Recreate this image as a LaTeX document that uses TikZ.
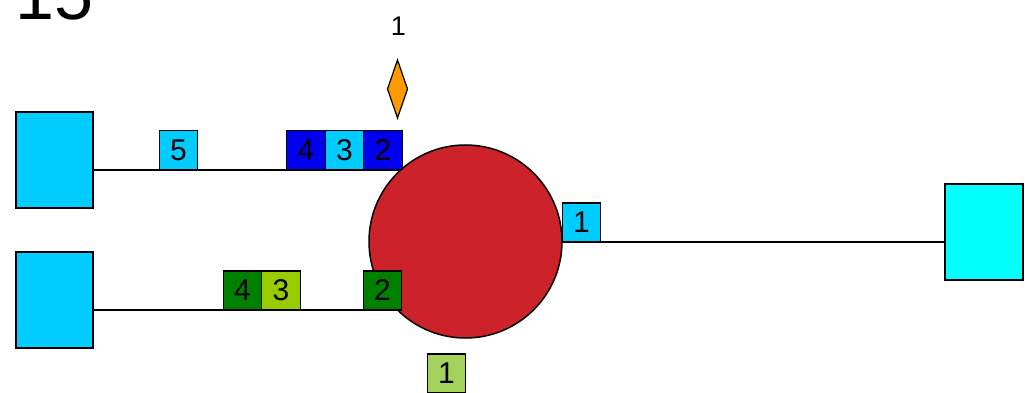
\documentclass[tikz,border=0pt]{standalone}
\usepackage{fontspec}
\setmainfont{Liberation Sans}
\definecolor{skyb}{HTML}{00CCFF}
\definecolor{aqua}{HTML}{00FFFF}
\definecolor{redc}{HTML}{CC2229}
\definecolor{blueb}{HTML}{0000EE}
\definecolor{dgreen}{HTML}{008000}
\definecolor{lime}{HTML}{99CC00}
\definecolor{lgreen}{HTML}{A3D35C}
\definecolor{orng}{HTML}{FF9900}
\begin{document}
\begin{tikzpicture}[x=1pt,y=-1pt,
  every node/.style={inner sep=0pt,outer sep=0pt},
  bigbox/.style={draw=black,line width=1.5pt,minimum width=77pt,minimum height=96pt},
  sq/.style={draw=black,line width=1.2pt,minimum width=38.5pt,minimum height=39pt,font=\fontsize{30}{30}\selectfont},
  wire/.style={draw=black,line width=1.5pt}]
\useasboundingbox (0,0) rectangle (1025,393);
\node[anchor=base west,font=\fontsize{70}{70}\selectfont] (title) at (16,20) {15};
% big boxes
\node[bigbox,fill=skyb] (L1) at (54.5,160) {};
\node[bigbox,fill=skyb] (L2) at (54.5,300) {};
\node[bigbox,fill=aqua,minimum width=78pt] (R) at (984,232) {};
\node[circle,minimum size=193pt] (C) at (465.5,241.5) {};
% wires
\coordinate (a1) at ([yshift=-10pt]L1.east);
\coordinate (a2) at ([yshift=-10pt]L2.east);
\coordinate (a3) at ([yshift=-10pt]R.west);
\draw[wire] (a1) -- (a1 -| C.center);
\draw[wire] (a2) -- (a2 -| C.center);
\draw[wire] (a3) -- (a3 -| C.center);
% circle
\fill[redc,draw=black,line width=1.5pt] (C.center) circle (96.5pt);
% top row
\node[sq,fill=skyb] (t5) at (178.5,150) {5};
\node[sq,fill=blueb] (t4) at (306,150) {4};
\node[sq,fill=skyb] (t3) at (344.5,150) {3};
\node[sq,fill=blueb] (t2) at (383,150) {2};
% bottom row
\node[sq,fill=dgreen] (b4) at (242.5,290.5) {4};
\node[sq,fill=lime] (b3) at (281,290.5) {3};
\node[sq,fill=dgreen] (b2) at (382.5,290.5) {2};
% others
\node[sq,fill=skyb] (r1) at (581.5,222.5) {1};
\node[sq,fill=lgreen] (d1) at (446.5,373.5) {1};
% diamond
\draw[fill=orng,draw=black,line width=1.2pt] (397.5,60) -- (407.5,89) -- (397.5,118) -- (387.5,89) -- cycle;
\node[font=\fontsize{27}{27}\selectfont] (lab1) at (398.5,26.5) {1};
\end{tikzpicture}
\end{document}
